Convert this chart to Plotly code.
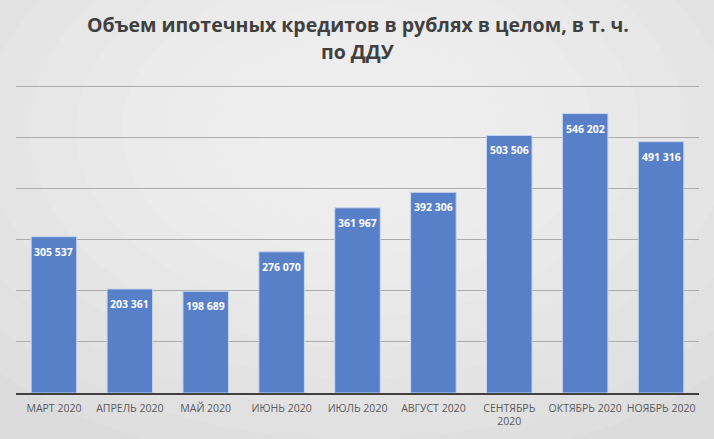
import plotly.graph_objects as go

categories = ["МАРТ 2020", "АПРЕЛЬ 2020", "МАЙ 2020", "ИЮНЬ 2020", "ИЮЛЬ 2020",
              "АВГУСТ 2020", "СЕНТЯБРЬ<br>2020", "ОКТЯБРЬ 2020", "НОЯБРЬ 2020"]
values = [305537, 203361, 198689, 276070, 361967, 392306, 503506, 546202, 491316]
labels = [f"{v:,}".replace(",", " ") for v in values]

title_lines = ["Объем ипотечных кредитов в рублях в целом, в т. ч.", "по ДДУ"]

fig = go.Figure()
fig.add_trace(go.Bar(
    x=categories, y=values,
    marker=dict(color="#5880C8", line=dict(color="#C9D6EE", width=1)),
    hoverinfo="x+y",
))

annotations = []
for c, v, t in zip(categories, values, labels):
    annotations.append(dict(x=c, y=v, text=f"<b>{t}</b>", showarrow=False,
                            yanchor="top", yshift=-6,
                            font=dict(family="Open Sans", size=10.5, color="white")))
for ty, line in zip([1.193, 1.105], title_lines):
    annotations.append(dict(x=0.5, xref="paper", y=ty, yref="paper", text=f"<b>{line}</b>",
                            showarrow=False, xanchor="center", yanchor="middle",
                            font=dict(family="Open Sans", size=19.5, color="#404040")))

# soft radial-ish background
shapes = []
for i in range(10):
    r = 1.0 - i * 0.09
    shapes.append(dict(type="circle", xref="paper", yref="paper",
                       x0=0.5 - r * 0.75, x1=0.5 + r * 0.75,
                       y0=0.85 - r * 1.1, y1=0.85 + r * 1.1,
                       fillcolor="white", opacity=0.09, line=dict(width=0),
                       layer="below"))

fig.update_layout(
    width=714, height=439,
    margin=dict(l=16, r=15, t=84, b=46),
    paper_bgcolor="#DCDCDC", plot_bgcolor="rgba(0,0,0,0)",
    bargap=0.4,
    showlegend=False,
    shapes=shapes,
    annotations=annotations,
    xaxis=dict(showgrid=False, showline=True, linecolor="#404040", linewidth=2,
               tickfont=dict(family="Open Sans", size=10.5, color="#595959"),
               ticks="", ticklabelstandoff=4),
    yaxis=dict(range=[0, 604000], dtick=100000, showticklabels=False,
               gridcolor="#ADADAD", gridwidth=1, zeroline=False, showline=False),
)
fig.write_html("out.html")
